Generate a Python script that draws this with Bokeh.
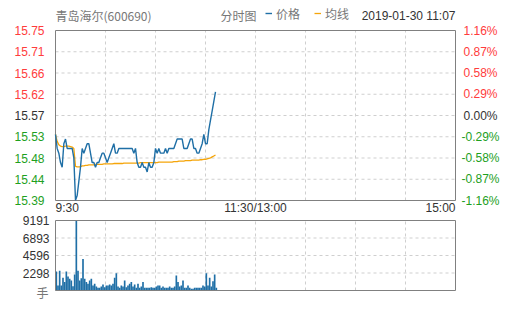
import numpy as np
from bokeh.plotting import figure
from bokeh.models import Range1d, Label, Legend, LegendItem, ColumnDataSource
from bokeh.embed import file_html
from bokeh.resources import INLINE

stock_name = "青岛海尔(600690)"
chart_kind = "分时图"
series_names = ["价格", "均线"]
timestamp = "2019-01-30 11:07"
prev_close = 15.57
max_pct = 1.16

price = [15.53, 15.50, 15.49, 15.47, 15.46, 15.51, 15.52, 15.50, 15.50, 15.50,
         15.50, 15.48, 15.39, 15.40, 15.43, 15.46, 15.50, 15.49, 15.50, 15.51,
         15.51, 15.49, 15.47, 15.47, 15.46, 15.47, 15.47, 15.48, 15.49, 15.49,
         15.48, 15.47, 15.48, 15.49, 15.50, 15.51, 15.49, 15.49, 15.50, 15.50,
         15.50, 15.50, 15.50, 15.50, 15.50, 15.50, 15.50, 15.49, 15.50, 15.47,
         15.46, 15.46, 15.47, 15.46, 15.46, 15.45, 15.47, 15.46, 15.46, 15.47,
         15.50, 15.49, 15.50, 15.49, 15.49, 15.49, 15.50, 15.49, 15.50, 15.50,
         15.50, 15.50, 15.51, 15.52, 15.52, 15.52, 15.52, 15.50, 15.50, 15.50,
         15.51, 15.52, 15.52, 15.50, 15.50, 15.49, 15.49, 15.50, 15.51, 15.53,
         15.51, 15.51, 15.54, 15.56, 15.58, 15.60, 15.62]

avg_price = [15.530, 15.515, 15.508, 15.505, 15.504, 15.504, 15.505, 15.505, 15.505, 15.504,
             15.503, 15.500, 15.462, 15.461, 15.461, 15.461, 15.463, 15.463, 15.464, 15.464,
             15.465, 15.465, 15.465, 15.465, 15.466, 15.466, 15.466, 15.466, 15.466, 15.467,
             15.467, 15.467, 15.467, 15.467, 15.467, 15.468, 15.468, 15.468, 15.468, 15.468,
             15.468, 15.469, 15.469, 15.469, 15.469, 15.469, 15.469, 15.469, 15.469, 15.469,
             15.469, 15.470, 15.470, 15.470, 15.470, 15.470, 15.470, 15.470, 15.470, 15.470,
             15.470, 15.470, 15.471, 15.471, 15.471, 15.471, 15.471, 15.471, 15.471, 15.471,
             15.471, 15.472, 15.472, 15.472, 15.473, 15.473, 15.473, 15.473, 15.474, 15.474,
             15.474, 15.474, 15.475, 15.475, 15.475, 15.475, 15.475, 15.476, 15.476, 15.477,
             15.477, 15.478, 15.479, 15.480, 15.482, 15.484, 15.486]

volume = [2500, 650, 2600, 650, 1660, 1100, 2500, 1840, 1530, 1310,
          550, 2100, 9191, 2600, 1310, 1600, 4150, 1530, 1100, 880,
          1310, 1530, 650, 880, 520, 350, 350, 520, 790, 440,
          650, 650, 790, 650, 880, 1660, 2280, 520, 350, 650,
          520, 1310, 440, 650, 880, 1100, 520, 790, 350, 880,
          350, 520, 1100, 350, 350, 350, 350, 440, 350, 350,
          520, 650, 650, 350, 520, 350, 350, 350, 520, 350,
          350, 520, 1970, 1100, 520, 650, 1310, 350, 350, 650,
          350, 220, 220, 350, 350, 350, 350, 350, 650, 520,
          2280, 650, 1660, 520, 1200, 2100, 350]

price_tick_labels = ["15.75", "15.71", "15.66", "15.62", "15.57", "15.53", "15.48", "15.44", "15.39"]
pct_tick_labels = ["1.16%", "0.87%", "0.58%", "0.29%", "0.00%", "-0.29%", "-0.58%", "-0.87%", "-1.16%"]
vol_max = 9191
vol_tick_labels = ["9191", "6893", "4596", "2298"]
vol_unit = "手"
time_tick_labels = ["9:30", "11:30/13:00", "15:00"]
time_tick_minutes = [0, 120, 240]
session_minutes = 240

FONT = "Liberation Sans"
CJK = "Noto Sans CJK SC"
BLUE = "#1f6fa6"
ORANGE = "#f5a50a"
RED = "#ff3c3c"
GREEN = "#1ea01e"
DARK = "#333333"
GRAY = "#777777"
GRID = "#cfcfcf"
OUTLINE = "#808080"

W, H = 505, 310
BOX_L, BOX_R = 55, 455          # pixel span of both chart boxes
TOP1, BOT1 = 30, 200            # price box
TOP2, BOT2 = 220, 290           # volume box

minutes = list(range(len(price)))
lo = prev_close * (1 - max_pct / 100)
hi = prev_close * (1 + max_pct / 100)
price_ticks = list(np.linspace(hi, lo, len(price_tick_labels)))
vol_ticks = list(np.linspace(vol_max, 0, len(vol_tick_labels) + 1))
half_hours = list(range(30, session_minutes, 30))

tpp = session_minutes / (BOX_R - BOX_L)
upp = (hi - lo) / (BOT1 - TOP1)
vpp = vol_max / (BOT2 - TOP2)

p = figure(width=W, height=H,
           x_range=Range1d(-BOX_L * tpp, session_minutes + (W - BOX_R) * tpp),
           y_range=Range1d(hi - (H - TOP1) * upp, hi + TOP1 * upp),
           x_axis_location=None, y_axis_location=None, toolbar_location=None,
           output_backend="svg", min_border=0)
p.extra_y_ranges = {"vol": Range1d(vol_max - (H - TOP2) * vpp, vol_max + TOP2 * vpp)}
p.grid.visible = False
p.outline_line_color = None
p.background_fill_color = "white"
p.border_fill_color = "white"

# ---------- price panel ----------
n = len(half_hours)
p.segment(x0=half_hours, x1=half_hours, y0=[lo] * n, y1=[hi] * n,
          line_color=GRID, line_dash="3 3", line_width=1)
inner = price_ticks[1:-1]
p.segment(x0=[0] * len(inner), x1=[session_minutes] * len(inner), y0=inner, y1=inner,
          line_color=GRID, line_dash="3 3", line_width=1)
p.quad(left=[0], right=[session_minutes], bottom=[lo], top=[hi],
       fill_color=None, line_color=OUTLINE, line_width=1)

src = ColumnDataSource(dict(t=minutes, price=price, avg=avg_price))
r_avg = p.line("t", "avg", source=src, line_color=ORANGE, line_width=1.3)
r_price = p.line("t", "price", source=src, line_color=BLUE, line_width=1.4)

mid = len(price_ticks) // 2
for i, (val, lab, pct) in enumerate(zip(price_ticks, price_tick_labels, pct_tick_labels)):
    col = RED if i < mid else (DARK if i == mid else GREEN)
    p.add_layout(Label(x=0, y=val, x_offset=-11, text=lab, text_align="right",
                       text_baseline="middle", text_color=col, text_font_size="12px",
                       text_font=FONT))
    p.add_layout(Label(x=session_minutes, y=val, x_offset=25, text=pct, text_align="center",
                       text_baseline="middle", text_color=col, text_font_size="12px",
                       text_font=FONT))

aligns = ["left", "center", "right"]
for t, lab, al in zip(time_tick_minutes, time_tick_labels, aligns):
    p.add_layout(Label(x=t, y=lo, y_offset=-7, text=lab, text_align=al,
                       text_baseline="middle", text_color=DARK, text_font_size="12px",
                       text_font=FONT))

# header
p.add_layout(Label(x=0, y=hi, y_offset=15, text=stock_name, text_align="left",
                   text_baseline="middle", text_color=GRAY, text_font_size="12px", text_font=CJK))
p.add_layout(Label(x=99, y=hi, y_offset=15, text=chart_kind, text_align="left",
                   text_baseline="middle", text_color=GRAY, text_font_size="12px", text_font=CJK))
p.add_layout(Label(x=session_minutes, y=hi, y_offset=15, text=timestamp, text_align="right",
                   text_baseline="middle", text_color=DARK, text_font_size="12px", text_font=FONT))

legend = Legend(items=[LegendItem(label=series_names[0], renderers=[r_price]),
                       LegendItem(label=series_names[1], renderers=[r_avg])],
                location=(265, H - 14.5 - 7), orientation="horizontal",
                glyph_width=7, glyph_height=14, label_standoff=4, spacing=14,
                padding=0, margin=0, border_line_color=None, background_fill_alpha=0,
                label_text_font_size="12px", label_text_color=GRAY, label_text_font=CJK,
                label_height=14, label_width=20)
p.add_layout(legend)

# ---------- volume panel ----------
m = len(half_hours)
p.segment(x0=half_hours, x1=half_hours, y0=[0] * m, y1=[vol_max] * m,
          line_color=GRID, line_dash="3 3", line_width=1, y_range_name="vol")
vinner = vol_ticks[1:-1]
p.segment(x0=[0] * len(vinner), x1=[session_minutes] * len(vinner), y0=vinner, y1=vinner,
          line_color=GRID, line_dash="3 3", line_width=1, y_range_name="vol")

vsrc = ColumnDataSource(dict(l=minutes, r=[k + 1 for k in minutes], v=volume, b=[0] * len(volume)))
p.quad(left="l", right="r", top="v", bottom="b", source=vsrc, fill_color=BLUE, line_color=None,
       y_range_name="vol")
p.quad(left=[0], right=[session_minutes], bottom=[0], top=[vol_max],
       fill_color=None, line_color=OUTLINE, line_width=1, y_range_name="vol")

for val, lab in zip(vol_ticks, vol_tick_labels):
    p.add_layout(Label(x=0, y=val, x_offset=-6, text=lab, text_align="right",
                       text_baseline="middle", text_color=DARK, text_font_size="12px",
                       text_font=FONT, y_range_name="vol"))
p.add_layout(Label(x=0, y=0, x_offset=-7, y_offset=-2, text=vol_unit, text_align="right",
                   text_baseline="middle", text_color=GRAY, text_font_size="12px", text_font=CJK,
                   y_range_name="vol"))

open("out.html", "w").write(file_html(p, INLINE))
